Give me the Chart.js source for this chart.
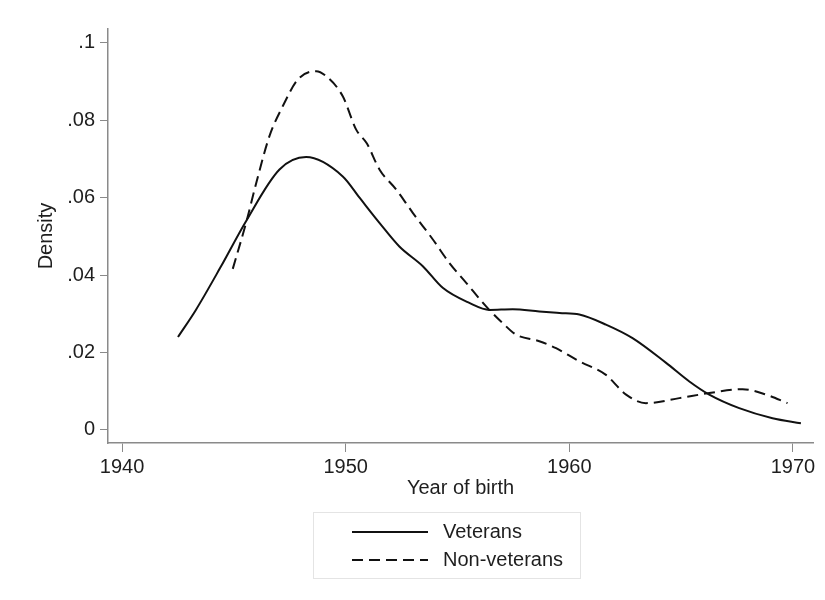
<!DOCTYPE html>
<html>
<head>
<meta charset="utf-8">
<script src="https://cdn.jsdelivr.net/npm/chart.js@4/dist/chart.umd.min.js"></script>
<style>
  body { margin: 0; background: #fff; }
  canvas { display: block; }
</style>
</head>
<body>
<canvas id="density" width="825" height="600"></canvas>
<script>
// values (year of birth, density)
const vetYears = [1942.5, 1943.3, 1944.4, 1945.55, 1947.04, 1948.23, 1949.87, 1950.62, 1951.51, 1952.4, 1953.45, 1954.34, 1955.53, 1956.43, 1957.47, 1958.66, 1959.56, 1960.45, 1961.64, 1962.83, 1964.33, 1965.37, 1966.26, 1967.6, 1969.09, 1970.36];
const vetDensity = [0.024, 0.031, 0.042, 0.054, 0.0673, 0.0705, 0.0655, 0.060, 0.0535, 0.0474, 0.0423, 0.0367, 0.0328, 0.031, 0.0312, 0.0306, 0.0302, 0.0298, 0.0272, 0.0237, 0.0173, 0.0125, 0.0091, 0.0056, 0.003, 0.0017];

const nonYears = [1944.95, 1945.55, 1946.0, 1946.59, 1947.19, 1947.87, 1948.68, 1949.13, 1949.87, 1950.47, 1950.95, 1951.51, 1952.26, 1953.0, 1953.9, 1954.64, 1955.39, 1956.28, 1957.02, 1957.62, 1958.66, 1959.41, 1960.45, 1961.64, 1962.54, 1963.43, 1964.92, 1966.26, 1967.75, 1968.8, 1969.76];
const nonDensity = [0.0416, 0.0536, 0.0638, 0.0759, 0.0837, 0.0906, 0.0927, 0.0914, 0.0862, 0.0776, 0.074, 0.0673, 0.0621, 0.0561, 0.0492, 0.0431, 0.038, 0.0319, 0.0276, 0.0246, 0.0229, 0.0211, 0.0177, 0.0142, 0.0091, 0.0069, 0.0082, 0.0095, 0.0105, 0.0091, 0.0069];

const seriesNames = ['Veterans', 'Non-veterans'];

const xTicks = [1940, 1950, 1960, 1970];
const yTicks = [0, 0.02, 0.04, 0.06, 0.08, 0.1];
const yTickLabels = ['0', '.02', '.04', '.06', '.08', '.1'];

const toPoints = (xs, ys) => xs.map((x, i) => ({ x: x, y: ys[i] }));

const font = { family: 'Arial, "Liberation Sans", sans-serif', size: 20 };
const textColor = '#1e1e1e';
const axisColor = '#8a8a8a';

// boxed legend under the plot, two rows like the original
const boxLegend = {
    id: 'boxLegend',
    afterDraw(chart) {
        const c = chart.ctx;
        c.save();
        c.strokeStyle = '#e4e4e4';
        c.lineWidth = 1;
        c.strokeRect(313.5, 512.5, 267, 66);
        c.font = '20px ' + font.family;
        c.fillStyle = textColor;
        c.textBaseline = 'middle';
        chart.data.datasets.forEach((ds, i) => {
            const y = 532 + i * 28;
            c.beginPath();
            c.strokeStyle = ds.borderColor;
            c.lineWidth = ds.borderWidth;
            c.setLineDash(ds.borderDash || []);
            c.moveTo(352, y);
            c.lineTo(428, y);
            c.stroke();
            c.setLineDash([]);
            c.fillText(ds.label, 443, y);
        });
        c.restore();
    }
};

const chart = new Chart(document.getElementById('density'), {
    type: 'line',
    data: {
        datasets: [
        {
            label: seriesNames[0],
            data: toPoints(vetYears, vetDensity),
            borderColor: '#111',
            borderWidth: 2,
            pointRadius: 0,
            cubicInterpolationMode: 'monotone',
            fill: false
        },
        {
            label: seriesNames[1],
            data: toPoints(nonYears, nonDensity),
            borderColor: '#111',
            borderWidth: 2,
            borderDash: [11, 6],
            pointRadius: 0,
            cubicInterpolationMode: 'monotone',
            fill: false
        }]
    },
    options: {
        responsive: false,
        animation: false,
        layout: {
            padding: { left: 0, top: 29, right: 12, bottom: 100 }
        },
        plugins: {
            legend: { display: false },
            tooltip: { enabled: false }
        },
        scales: {
            x: {
                type: 'linear',
                min: 1939.37,
                max: 1970.9,
                afterBuildTicks: (axis) => { axis.ticks = xTicks.map(v => ({ value: v })); },
                afterFit: (axis) => { axis.height = 57; },
                ticks: {
                    color: textColor,
                    font: font,
                    padding: 3,
                    maxRotation: 0,
                    callback: (v) => String(v)
                },
                grid: {
                    drawOnChartArea: false,
                    drawTicks: true,
                    tickLength: 9,
                    color: axisColor
                },
                border: { color: axisColor, width: 1.5 },
                title: {
                    display: true,
                    text: 'Year of birth',
                    color: textColor,
                    font: font,
                    padding: { top: 0, bottom: 0 }
                }
            },
            y: {
                min: -0.0034,
                max: 0.1036,
                afterBuildTicks: (axis) => { axis.ticks = yTicks.map(v => ({ value: v })); },
                afterFit: (axis) => { axis.width = 108; },
                ticks: {
                    color: textColor,
                    font: font,
                    padding: 5,
                    callback: (v) => {
                        const i = yTicks.findIndex(t => Math.abs(t - v) < 1e-9);
                        return i >= 0 ? yTickLabels[i] : '';
                    }
                },
                grid: {
                    drawOnChartArea: false,
                    drawTicks: true,
                    tickLength: 8,
                    color: axisColor
                },
                border: { color: axisColor, width: 1.5 },
                title: {
                    display: true,
                    text: 'Density',
                    color: textColor,
                    font: font,
                    padding: { top: 34, bottom: 0 }
                }
            }
        }
    },
    plugins: [boxLegend]
});
</script>
</body>
</html>
